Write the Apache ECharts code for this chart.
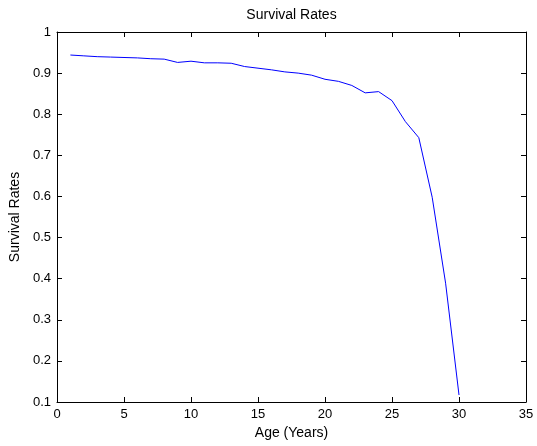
<!DOCTYPE html>
<html>
<head>
<meta charset="utf-8">
<script src="https://cdn.jsdelivr.net/npm/echarts@6/dist/echarts.min.js"></script>
<style>
  html, body { margin: 0; padding: 0; background: #fff; }
  #chart { width: 537px; height: 446px; }
</style>
</head>
<body>
<div id="chart"></div>
<script>
// Age in years and the survival rate at each age
const ages = [1, 2, 3, 4, 5, 6, 7, 8, 9, 10, 11, 12, 13, 14, 15, 16, 17, 18, 19, 20, 21, 22, 23, 24, 25, 26, 27, 28, 29, 30];
const survivalRates = [0.944, 0.942, 0.940, 0.939, 0.938, 0.937, 0.935, 0.934, 0.926, 0.929, 0.925, 0.925, 0.924, 0.916, 0.912, 0.908, 0.903, 0.900, 0.895, 0.885, 0.880, 0.870, 0.852, 0.855, 0.833, 0.782, 0.743, 0.598, 0.389, 0.117];

const FONT = 'Liberation Sans, Arial, sans-serif';
const TICK_SIZE = 13;
const NAME_SIZE = 14;
const GRID = { left: 57, right: 11, top: 32, bottom: 44 };
const WIDTH = 537;
const chart = echarts.init(document.getElementById('chart'), null, { renderer: 'canvas' });

// Boxed frame: every side gets a black line with short inward ticks
function boxAxis() {
  return {
    axisLine: { show: true, onZero: false, lineStyle: { color: '#000', width: 1 } },
    axisTick: { show: true, inside: true, length: 5, lineStyle: { color: '#000' } },
    splitLine: { show: false }
  };
}

chart.setOption({
  animation: false,
  backgroundColor: '#fff',
  title: {
    text: 'Survival Rates',
    // centred over the plot area rather than the whole canvas
    left: GRID.left + (WIDTH - GRID.left - GRID.right) / 2,
    textAlign: 'center',
    top: 8,
    padding: 0,
    textStyle: { fontFamily: FONT, fontSize: NAME_SIZE, fontWeight: 'normal', color: '#000' }
  },
  grid: GRID,
  xAxis: [
    Object.assign({
      type: 'value', min: 0, max: 35, interval: 5, position: 'bottom',
      name: 'Age (Years)', nameLocation: 'middle', nameGap: 23,
      nameTextStyle: { fontFamily: FONT, fontSize: NAME_SIZE, color: '#000' },
      axisLabel: { fontFamily: FONT, fontSize: TICK_SIZE, color: '#000', margin: 6 }
    }, boxAxis()),
    Object.assign({
      type: 'value', min: 0, max: 35, interval: 5, position: 'top',
      axisLabel: { show: false }
    }, boxAxis())
  ],
  yAxis: [
    Object.assign({
      type: 'value', min: 0.1, max: 1, interval: 0.1, position: 'left',
      name: 'Survival Rates', nameLocation: 'middle', nameGap: 31, nameRotate: 90,
      nameTextStyle: { fontFamily: FONT, fontSize: NAME_SIZE, color: '#000' },
      axisLabel: {
        fontFamily: FONT, fontSize: TICK_SIZE, color: '#000', margin: 6,
        formatter: v => String(+v.toFixed(1))
      }
    }, boxAxis()),
    Object.assign({
      type: 'value', min: 0.1, max: 1, interval: 0.1, position: 'right',
      axisLabel: { show: false }
    }, boxAxis())
  ],
  series: [{
    type: 'line',
    data: ages.map((a, i) => [a, survivalRates[i]]),
    showSymbol: false,
    lineStyle: { color: '#0000ff', width: 1 },
    xAxisIndex: 0,
    yAxisIndex: 0
  }]
});
</script>
</body>
</html>
